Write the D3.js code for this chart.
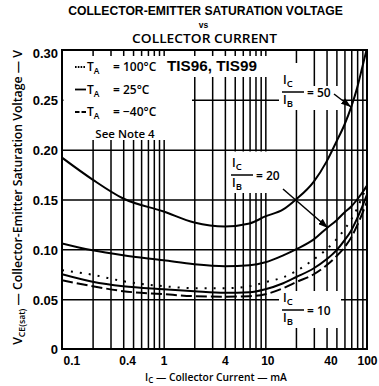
<!DOCTYPE html>
<html><head><meta charset="utf-8">
<script src="https://cdn.jsdelivr.net/npm/d3@7"></script>
<style>
body{margin:0;background:#fff}
svg{display:block}
text{font-family:"Liberation Sans",Arial,sans-serif;fill:#000}
.m{font-family:"Open Sans","Liberation Sans",Arial,sans-serif;font-weight:600}
</style></head>
<body><svg id="c" width="379" height="386"></svg>
<script>
// ---------------- data ----------------
const currents      = [0.1, 0.2, 0.4, 1, 2, 4, 7, 10, 15, 20, 30, 40, 50, 60, 70, 80, 90, 100]; // mA
const ratio50_25C   = [0.192,0.170,0.151,0.138,0.127,0.123,0.126,0.133,0.140,0.150,0.168,0.188,0.208,0.225,0.243,0.262,0.283,0.302];
const ratio20_25C   = [0.106,0.099,0.094,0.089,0.085,0.083,0.084,0.087,0.094,0.100,0.110,0.121,0.129,0.137,0.143,0.150,0.157,0.164];
const ratio10_100C  = [0.079,0.0745,0.068,0.063,0.061,0.061,0.063,0.067,0.072,0.078,0.090,0.100,0.110,0.120,0.130,0.141,0.153,0.163];
const ratio10_25C   = [0.075,0.0675,0.063,0.060,0.058,0.0565,0.057,0.060,0.066,0.072,0.081,0.090,0.099,0.109,0.119,0.131,0.143,0.155];
const ratio10_m40C  = [0.069,0.063,0.058,0.055,0.053,0.0525,0.053,0.055,0.061,0.067,0.075,0.084,0.093,0.102,0.112,0.124,0.136,0.148];

const xTickLabels = [0.1, 0.4, 1, 4, 10, 40, 100];
const yTickValues = [0, 0.05, 0.10, 0.15, 0.20, 0.25, 0.30];
const xGridValues = [0.2,0.3,0.4,0.5,0.6,0.7,0.8,0.9,1,2,3,4,5,6,7,8,9,10,20,30,40,50,60,70,80,90];
const yGridValues = [0.05, 0.10, 0.15, 0.20, 0.25];

const series = [
  {values: ratio50_25C,  style: "solid"},
  {values: ratio20_25C,  style: "solid"},
  {values: ratio10_100C, style: "dotted"},
  {values: ratio10_25C,  style: "solid"},
  {values: ratio10_m40C, style: "dashed"}
];
const legendItems = [
  {style: "dotted", temp: "= 100°C"},
  {style: "solid",  temp: "= 25°C"},
  {style: "dashed", temp: "= −40°C"}
];

// ---------------- layout ----------------
const svg = d3.select("#c");
const L = 62, R = 367, T = 50, B = 349;
const x = d3.scaleLog().domain([0.1, 100]).range([L, R]);
const y = d3.scaleLinear().domain([0, 0.30]).range([B, T]);

function fit(sel, w) {
  return w / sel.node().getComputedTextLength();
}

// ---------------- titles ----------------
const t1 = svg.append("text").attr("text-anchor","middle").attr("font-weight","bold")
  .attr("font-size",12.5).text("COLLECTOR-EMITTER SATURATION VOLTAGE");
t1.attr("transform", `translate(205.5,15) scale(${fit(t1,275)},1)`);
svg.append("text").attr("x",203.5).attr("y",28).attr("text-anchor","middle")
  .attr("font-weight","bold").attr("font-size",8.5).text("vs");
const t3 = svg.append("text").attr("text-anchor","middle").attr("class","m")
  .attr("font-size",12.5).text("COLLECTOR CURRENT");
t3.attr("transform", `translate(204.5,42.5) scale(${fit(t3,145)},1)`);

// ---------------- grid ----------------
const grid = svg.append("g");
grid.append("g").attr("transform",`translate(0,${B})`)
  .call(d3.axisBottom(x).tickValues(xGridValues).tickSize(-(B - T)).tickFormat(""))
  .call(g => g.select(".domain").remove())
  .call(g => g.selectAll("line").attr("stroke","#000").attr("stroke-width",1.5));
grid.append("g").attr("transform",`translate(${L},0)`)
  .call(d3.axisLeft(y).tickValues(yGridValues).tickSize(-(R - L)).tickFormat(""))
  .call(g => g.select(".domain").remove())
  .call(g => g.selectAll("line").attr("stroke","#000").attr("stroke-width",1.5));

// white knock-outs behind labels
const masks = [
  [63.5, 56, 192, 140],   // legend
  [160, 56, 268, 77],     // part numbers
  [279, 63, 300, 110],    // Ic/Ib = 50 (I)
  [300, 86, 342, 110],    // = 50
  [229, 151.5, 283, 193], // Ic/Ib = 20
  [279, 291, 341, 328]    // Ic/Ib = 10
];
svg.append("g").selectAll("rect").data(masks).join("rect")
  .attr("x", d => d[0]).attr("y", d => d[1])
  .attr("width", d => d[2] - d[0]).attr("height", d => d[3] - d[1])
  .attr("fill", "#fff");

// ---------------- frame ----------------
svg.append("rect").attr("x",L).attr("y",T).attr("width",R-L).attr("height",B-T)
  .attr("fill","none").attr("stroke","#000").attr("stroke-width",2);

// ---------------- axes labels ----------------
svg.append("g").attr("transform",`translate(${L},0)`)
  .call(d3.axisLeft(y).tickValues(yTickValues).tickSize(0).tickPadding(4)
        .tickFormat(d => d === 0 ? "0" : d.toFixed(2)))
  .call(g => g.select(".domain").remove())
  .call(g => g.selectAll("text").attr("font-size",13).attr("font-weight","bold")
        .attr("font-family",'"Liberation Sans",Arial,sans-serif').attr("fill","#000")
        .attr("dy", d => d === 0.30 ? "0.55em" : "0.38em"));

const xl = svg.append("g").attr("transform",`translate(0,${B})`)
  .call(d3.axisBottom(x).tickValues(xTickLabels).tickSize(0).tickPadding(7)
        .tickFormat(d => String(d)))
  .call(g => g.select(".domain").remove())
  .call(g => g.selectAll("text").attr("font-size",12).attr("font-weight","bold")
        .attr("font-family",'"Liberation Sans",Arial,sans-serif').attr("fill","#000"));
xl.selectAll("text").each(function(d){
  const s = d3.select(this);
  if (d === 0.1) s.attr("text-anchor","start").attr("x",1);
  if (d === 0.4 || d === 40) s.attr("x",4);
  if (d === 10) s.attr("x",2);
});

// x-axis title
const xt = svg.append("text").attr("text-anchor","start").attr("class","m").attr("font-size",11.5);
xt.append("tspan").text("I");
xt.append("tspan").attr("font-size",9).attr("dy",2.5).text("C");
xt.append("tspan").attr("dy",-2.5).text(" — Collector Current — mA");
xt.attr("transform",`translate(145,380.5) scale(${fit(xt,142)},1)`);

// y-axis title
const yt = svg.append("text").attr("text-anchor","middle").attr("class","m").attr("font-size",12);
yt.append("tspan").text("V");
yt.append("tspan").attr("font-size",8.5).attr("dy",3).text("CE(sat)");
yt.append("tspan").attr("dy",-3).text(" — Collector-Emitter Saturation Voltage — V");
yt.attr("transform",`translate(22,197.5) rotate(-90) scale(${fit(yt,295)},1)`);

// ---------------- curves ----------------
const dash = {solid: null, dotted: "2,7", dashed: "11,4"};
svg.append("clipPath").attr("id","clip").append("rect")
  .attr("x",L).attr("y",T).attr("width",R-L).attr("height",B-T);
const line = d3.line().x(d => x(d[0])).y(d => y(d[1])).curve(d3.curveMonotoneX);
svg.append("g").attr("clip-path","url(#clip)").selectAll("path").data(series).join("path")
  .attr("d", s => line(currents.map((c,i) => [c, s.values[i]])))
  .attr("fill","none").attr("stroke","#000").attr("stroke-width",2)
  .attr("stroke-dasharray", s => dash[s.style]);

// ---------------- legend ----------------
const lg = svg.append("g");
const legDash = {solid: null, dotted: "1.6,1.2", dashed: "4.5,2"};
legendItems.forEach((it, i) => {
  const by = 71 + i * 22.5;
  lg.append("line").attr("x1",75).attr("x2",86).attr("y1",by-4).attr("y2",by-4)
    .attr("stroke","#000").attr("stroke-width",1.8)
    .attr("stroke-dasharray", legDash[it.style]);
  const tt = lg.append("text").attr("x",87).attr("y",by).attr("class","m").attr("font-size",12);
  tt.append("tspan").text("T");
  tt.append("tspan").attr("font-size",8.5).attr("dy",3).text("A");
  const tv = lg.append("text").attr("class","m").attr("font-size",12).text(it.temp);
  const s = Math.min(1, fit(tv, it.temp.length * 6.6));
  tv.attr("transform",`translate(113,${by}) scale(${s},1)`);
});
lg.append("text").attr("x",125).attr("y",138).attr("text-anchor","middle")
  .attr("class","m").attr("font-size",11.5).text("See Note 4");
const tis = lg.append("text").attr("font-weight","bold").attr("font-size",15).text("TIS96, TIS99");
tis.attr("transform",`translate(167,71) scale(${fit(tis,90)},1)`);

// ---------------- ratio annotations ----------------
svg.append("defs").append("marker").attr("id","arr")
  .attr("markerUnits","userSpaceOnUse").attr("markerWidth",11).attr("markerHeight",7)
  .attr("refX",10).attr("refY",3.5).attr("orient","auto")
  .append("path").attr("d","M0,0 L10,3.5 L0,7 Z").attr("fill","#000");

function ratioLabel(xl, barY, val) {
  const g = svg.append("g");
  const a = g.append("text").attr("x",xl+1).attr("y",barY-8).attr("class","m").attr("font-size",12);
  a.append("tspan").text("I");
  a.append("tspan").attr("font-size",9.5).attr("dy",3).text("C");
  g.append("line").attr("x1",xl).attr("x2",xl+22).attr("y1",barY).attr("y2",barY)
    .attr("stroke","#000").attr("stroke-width",1.5);
  g.append("text").attr("x",xl+25).attr("y",barY+4.5).attr("class","m").attr("font-size",12).text("= " + val);
  const b = g.append("text").attr("x",xl+1).attr("y",barY+12).attr("class","m").attr("font-size",12);
  b.append("tspan").text("I");
  b.append("tspan").attr("font-size",9.5).attr("dy",3).text("B");
}
ratioLabel(282, 92, 50);
ratioLabel(231, 175, 20);
ratioLabel(282, 310, 10);

const arrows = [
  [[334, 94], [351, 107]],
  [[283, 189], [328, 228]]
];
svg.append("g").selectAll("line").data(arrows).join("line")
  .attr("x1", d => d[0][0]).attr("y1", d => d[0][1])
  .attr("x2", d => d[1][0]).attr("y2", d => d[1][1])
  .attr("stroke","#000").attr("stroke-width",1.5).attr("marker-end","url(#arr)");
</script></body></html>
